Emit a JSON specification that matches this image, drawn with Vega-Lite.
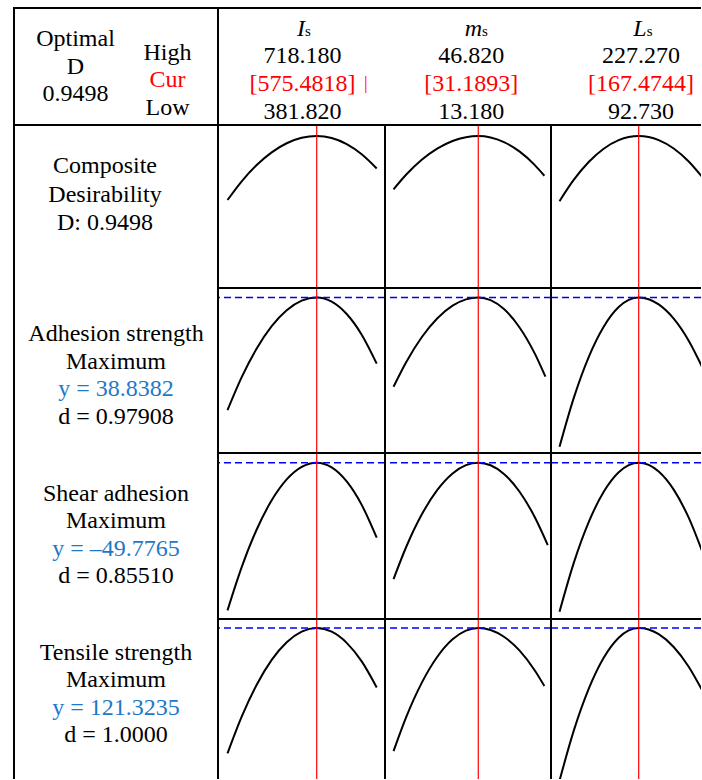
{
"$schema": "https://vega.github.io/schema/vega-lite/v6.json",
"background": "white",
"padding": {"left": 13, "top": 7, "right": 0, "bottom": 0},
"datasets": {
"factors": [
{"f": "Is", "sym": "I", "sub": "s", "low": 381.82, "high": 718.18, "cur": 575.4818},
{"f": "ms", "sym": "m", "sub": "s", "low": 13.18, "high": 46.82, "cur": 31.1893},
{"f": "Ls", "sym": "L", "sub": "s", "low": 92.73, "high": 227.27, "cur": 167.4744}
],
"responses": [
{"r": "A", "yv": 38.8382},
{"r": "S", "yv": -49.7765},
{"r": "T", "yv": 121.3235}
],
"hleft": [
{"g": "L", "line": 2, "text": "Optimal", "role": "k"},
{"g": "L", "line": 4, "text": "D", "role": "k"},
{"g": "L", "line": 6, "text": "0.9498", "role": "k"},
{"g": "R", "line": 3, "text": "High", "role": "k"},
{"g": "R", "line": 5, "text": "Cur", "role": "cur"},
{"g": "R", "line": 7, "text": "Low", "role": "k"}
],
"hcols": [
{"f": "Is", "line": 2, "text": "718.180", "role": "k"},
{"f": "Is", "line": 3, "text": "[575.4818]", "role": "cur"},
{"f": "Is", "line": 4, "text": "381.820", "role": "k"},
{"f": "ms", "line": 2, "text": "46.820", "role": "k"},
{"f": "ms", "line": 3, "text": "[31.1893]", "role": "cur"},
{"f": "ms", "line": 4, "text": "13.180", "role": "k"},
{"f": "Ls", "line": 2, "text": "227.270", "role": "k"},
{"f": "Ls", "line": 3, "text": "[167.4744]", "role": "cur"},
{"f": "Ls", "line": 4, "text": "92.730", "role": "k"}
],
"labels": [
{"r": "D", "line": 1, "text": "Composite", "role": "k"},
{"r": "D", "line": 2, "text": "Desirability", "role": "k"},
{"r": "D", "line": 3, "text": "D: 0.9498", "role": "k"},
{"r": "A", "line": 1, "text": "Adhesion strength", "role": "k"},
{"r": "A", "line": 2, "text": "Maximum", "role": "k"},
{"r": "A", "line": 3, "text": "y = 38.8382", "role": "y"},
{"r": "A", "line": 4, "text": "d = 0.97908", "role": "k"},
{"r": "S", "line": 1, "text": "Shear adhesion", "role": "k"},
{"r": "S", "line": 2, "text": "Maximum", "role": "k"},
{"r": "S", "line": 3, "text": "y = –49.7765", "role": "y"},
{"r": "S", "line": 4, "text": "d = 0.85510", "role": "k"},
{"r": "T", "line": 1, "text": "Tensile strength", "role": "k"},
{"r": "T", "line": 2, "text": "Maximum", "role": "k"},
{"r": "T", "line": 3, "text": "y = 121.3235", "role": "y"},
{"r": "T", "line": 4, "text": "d = 1.0000", "role": "k"}
],
"curves": [
{"r":"D","f":"Is","x":381.82,"y":0.5498},{"r":"D","f":"Is","x":412.65,"y":0.6671},{"r":"D","f":"Is","x":445.21,"y":0.7689},{"r":"D","f":"Is","x":477.78,"y":0.848},{"r":"D","f":"Is","x":510.35,"y":0.9046},{"r":"D","f":"Is","x":542.91,"y":0.9385},{"r":"D","f":"Is","x":575.48,"y":0.9498},{"r":"D","f":"Is","x":608.05,"y":0.9371},{"r":"D","f":"Is","x":640.61,"y":0.8991},{"r":"D","f":"Is","x":673.18,"y":0.8357},{"r":"D","f":"Is","x":705.75,"y":0.747},
{"r":"D","f":"ms","x":13.18,"y":0.6167},{"r":"D","f":"ms","x":15.89,"y":0.7094},{"r":"D","f":"ms","x":19.17,"y":0.8014},{"r":"D","f":"ms","x":22.45,"y":0.8713},{"r":"D","f":"ms","x":25.73,"y":0.9191},{"r":"D","f":"ms","x":28.57,"y":0.9427},{"r":"D","f":"ms","x":31.19,"y":0.9498},{"r":"D","f":"ms","x":33.81,"y":0.9412},{"r":"D","f":"ms","x":36.65,"y":0.9123},{"r":"D","f":"ms","x":39.93,"y":0.8538},{"r":"D","f":"ms","x":43.21,"y":0.7683},{"r":"D","f":"ms","x":45.24,"y":0.7017},
{"r":"D","f":"Ls","x":93.2,"y":0.5425},{"r":"D","f":"Ls","x":106.52,"y":0.6754},{"r":"D","f":"Ls","x":120.58,"y":0.7874},{"r":"D","f":"Ls","x":134.65,"y":0.8702},{"r":"D","f":"Ls","x":148.72,"y":0.9238},{"r":"D","f":"Ls","x":158.1,"y":0.9433},{"r":"D","f":"Ls","x":167.47,"y":0.9498},{"r":"D","f":"Ls","x":176.85,"y":0.9434},{"r":"D","f":"Ls","x":186.23,"y":0.9244},{"r":"D","f":"Ls","x":200.3,"y":0.872},{"r":"D","f":"Ls","x":214.37,"y":0.791},{"r":"D","f":"Ls","x":226.84,"y":0.6954},
{"r":"A","f":"Is","x":381.82,"y":24.754},{"r":"A","f":"Is","x":412.65,"y":28.882},{"r":"A","f":"Is","x":445.21,"y":32.466},{"r":"A","f":"Is","x":477.78,"y":35.254},{"r":"A","f":"Is","x":510.35,"y":37.246},{"r":"A","f":"Is","x":542.91,"y":38.439},{"r":"A","f":"Is","x":575.48,"y":38.838},{"r":"A","f":"Is","x":608.05,"y":38.321},{"r":"A","f":"Is","x":640.61,"y":36.771},{"r":"A","f":"Is","x":673.18,"y":34.186},{"r":"A","f":"Is","x":705.75,"y":30.567},
{"r":"A","f":"ms","x":13.18,"y":27.686},{"r":"A","f":"ms","x":15.89,"y":30.789},{"r":"A","f":"ms","x":19.17,"y":33.869},{"r":"A","f":"ms","x":22.45,"y":36.211},{"r":"A","f":"ms","x":25.73,"y":37.812},{"r":"A","f":"ms","x":28.57,"y":38.602},{"r":"A","f":"ms","x":31.19,"y":38.838},{"r":"A","f":"ms","x":33.81,"y":38.504},{"r":"A","f":"ms","x":36.65,"y":37.387},{"r":"A","f":"ms","x":39.93,"y":35.124},{"r":"A","f":"ms","x":43.21,"y":31.817},{"r":"A","f":"ms","x":45.46,"y":28.941},
{"r":"A","f":"Ls","x":93.2,"y":20.169},{"r":"A","f":"Ls","x":106.52,"y":26.263},{"r":"A","f":"Ls","x":120.58,"y":31.397},{"r":"A","f":"Ls","x":134.65,"y":35.192},{"r":"A","f":"Ls","x":148.72,"y":37.648},{"r":"A","f":"Ls","x":158.1,"y":38.541},{"r":"A","f":"Ls","x":167.47,"y":38.838},{"r":"A","f":"Ls","x":176.85,"y":38.622},{"r":"A","f":"Ls","x":186.23,"y":37.974},{"r":"A","f":"Ls","x":200.3,"y":36.193},{"r":"A","f":"Ls","x":214.37,"y":33.441},{"r":"A","f":"Ls","x":226.84,"y":30.188},
{"r":"S","f":"Is","x":381.82,"y":-123.61},{"r":"S","f":"Is","x":412.65,"y":-101.98},{"r":"S","f":"Is","x":445.21,"y":-83.19},{"r":"S","f":"Is","x":477.78,"y":-68.57},{"r":"S","f":"Is","x":510.35,"y":-58.13},{"r":"S","f":"Is","x":542.91,"y":-51.87},{"r":"S","f":"Is","x":575.48,"y":-49.78},{"r":"S","f":"Is","x":608.05,"y":-52.12},{"r":"S","f":"Is","x":640.61,"y":-59.15},{"r":"S","f":"Is","x":673.18,"y":-70.87},{"r":"S","f":"Is","x":705.75,"y":-87.27},
{"r":"S","f":"ms","x":13.18,"y":-108.0},{"r":"S","f":"ms","x":15.89,"y":-91.8},{"r":"S","f":"ms","x":19.17,"y":-75.72},{"r":"S","f":"ms","x":22.45,"y":-63.5},{"r":"S","f":"ms","x":25.73,"y":-55.14},{"r":"S","f":"ms","x":28.57,"y":-51.01},{"r":"S","f":"ms","x":31.19,"y":-49.78},{"r":"S","f":"ms","x":33.81,"y":-51.07},{"r":"S","f":"ms","x":36.65,"y":-55.41},{"r":"S","f":"ms","x":39.93,"y":-64.19},{"r":"S","f":"ms","x":43.21,"y":-77.03},{"r":"S","f":"ms","x":45.96,"y":-90.95},
{"r":"S","f":"Ls","x":93.2,"y":-124.3},{"r":"S","f":"Ls","x":106.52,"y":-99.97},{"r":"S","f":"Ls","x":120.58,"y":-79.48},{"r":"S","f":"Ls","x":134.65,"y":-64.33},{"r":"S","f":"Ls","x":148.72,"y":-54.53},{"r":"S","f":"Ls","x":158.1,"y":-50.97},{"r":"S","f":"Ls","x":167.47,"y":-49.78},{"r":"S","f":"Ls","x":176.85,"y":-50.88},{"r":"S","f":"Ls","x":186.23,"y":-54.18},{"r":"S","f":"Ls","x":200.3,"y":-63.25},{"r":"S","f":"Ls","x":214.37,"y":-77.28},{"r":"S","f":"Ls","x":226.84,"y":-93.85},
{"r":"T","f":"Is","x":381.82,"y":58.62},{"r":"T","f":"Is","x":412.65,"y":77.0},{"r":"T","f":"Is","x":445.21,"y":92.95},{"r":"T","f":"Is","x":477.78,"y":105.37},{"r":"T","f":"Is","x":510.35,"y":114.23},{"r":"T","f":"Is","x":542.91,"y":119.55},{"r":"T","f":"Is","x":575.48,"y":121.32},{"r":"T","f":"Is","x":608.05,"y":119.47},{"r":"T","f":"Is","x":640.61,"y":113.9},{"r":"T","f":"Is","x":673.18,"y":104.62},{"r":"T","f":"Is","x":705.75,"y":91.62},
{"r":"T","f":"ms","x":13.18,"y":59.77},{"r":"T","f":"ms","x":15.89,"y":76.9},{"r":"T","f":"ms","x":19.17,"y":93.9},{"r":"T","f":"ms","x":22.45,"y":106.82},{"r":"T","f":"ms","x":25.73,"y":115.66},{"r":"T","f":"ms","x":28.57,"y":120.02},{"r":"T","f":"ms","x":31.19,"y":121.32},{"r":"T","f":"ms","x":33.81,"y":120.31},{"r":"T","f":"ms","x":36.65,"y":116.94},{"r":"T","f":"ms","x":39.93,"y":110.1},{"r":"T","f":"ms","x":43.21,"y":100.1},{"r":"T","f":"ms","x":45.24,"y":92.32},
{"r":"T","f":"Ls","x":93.2,"y":44.97},{"r":"T","f":"Ls","x":106.52,"y":69.87},{"r":"T","f":"Ls","x":120.58,"y":90.87},{"r":"T","f":"Ls","x":134.65,"y":106.41},{"r":"T","f":"Ls","x":148.72,"y":116.45},{"r":"T","f":"Ls","x":158.1,"y":120.1},{"r":"T","f":"Ls","x":167.47,"y":121.32},{"r":"T","f":"Ls","x":176.85,"y":120.55},{"r":"T","f":"Ls","x":186.23,"y":118.23},{"r":"T","f":"Ls","x":200.3,"y":111.85},{"r":"T","f":"Ls","x":214.37,"y":101.98},{"r":"T","f":"Ls","x":226.84,"y":90.32}
]
},
"columns": 4,
"spacing": 0,
"bounds": "flush",
"align": "each",
"concat": [
{"width": 204, "height": 117, "view": {"stroke": "black", "strokeWidth": 2}, "data": {"name": "hleft"},
 "layer": [
  {"transform": [{"filter": "datum.g == 'L'"}], "mark": {"type": "text"},
   "encoding": {"x": {"datum": 0.3015, "type": "quantitative", "scale": {"domain": [0, 1], "nice": false, "zero": false}, "axis": null},
    "y": {"field": "line", "type": "quantitative", "scale": {"domain": [-0.179, 8.179], "reverse": true, "nice": false, "zero": false}, "axis": null},
    "text": {"field": "text"},
    "color": {"field": "role", "type": "nominal", "scale": {"domain": ["k", "cur", "y"], "range": ["#000000", "#FF0000", "#1E78C8"]}, "legend": null}}},
  {"transform": [{"filter": "datum.g == 'R'"}], "mark": {"type": "text"},
   "encoding": {"x": {"datum": 0.7525, "type": "quantitative"},
    "y": {"field": "line", "type": "quantitative"},
    "text": {"field": "text"},
    "color": {"field": "role", "type": "nominal", "scale": {"domain": ["k", "cur", "y"], "range": ["#000000", "#FF0000", "#1E78C8"]}, "legend": null}}}
 ]},
{"width": 167, "height": 117, "data": {"name": "factors"}, "transform": [{"filter": "datum.f == 'Is'"}],
 "layer": [
  {"data": {"name": "hcols"}, "transform": [{"filter": "datum.f == 'Is'"}], "mark": {"type": "text"},
   "encoding": {"x": {"datum": 544.65, "type": "quantitative", "scale": {"domain": [361.19, 723.77], "nice": false, "zero": false}, "axis": null},
    "y": {"field": "line", "type": "quantitative", "scale": {"domain": [0.2857, 4.4643], "reverse": true, "nice": false, "zero": false}, "axis": null},
    "text": {"field": "text"},
    "color": {"field": "role", "type": "nominal", "scale": {"domain": ["k", "cur", "y"], "range": ["#000000", "#FF0000", "#1E78C8"]}, "legend": null}}},
  {"mark": {"type": "text", "fontStyle": "italic", "align": "right", "baseline": "alphabetic"},
   "encoding": {"x": {"datum": 550.08, "type": "quantitative"}, "y": {"datum": 1.2857, "type": "quantitative"}, "text": {"field": "sym"}}},
  {"mark": {"type": "text", "fontSize": 15, "align": "left", "baseline": "alphabetic"},
   "encoding": {"x": {"datum": 550.08, "type": "quantitative"}, "y": {"datum": 1.2857, "type": "quantitative"}, "text": {"field": "sub"}}},
  {"mark": {"type": "text", "fontSize": 18, "color": "#FF0000"},
   "encoding": {"x": {"datum": 681.9, "type": "quantitative"}, "y": {"datum": 3, "type": "quantitative"}, "text": {"value": "|"}}},
  {"mark": {"type": "rule", "color": "black", "strokeWidth": 2}, "encoding": {"y": {"datum": 0.2857, "type": "quantitative"}}}
 ]},
{"width": 166, "height": 117, "data": {"name": "factors"}, "transform": [{"filter": "datum.f == 'ms'"}],
 "layer": [
  {"data": {"name": "hcols"}, "transform": [{"filter": "datum.f == 'ms'"}], "mark": {"type": "text"},
   "encoding": {"x": {"datum": 29.72, "type": "quantitative", "scale": {"domain": [11.366, 46.648], "nice": false, "zero": false}, "axis": null},
    "y": {"field": "line", "type": "quantitative", "scale": {"domain": [0.2857, 4.4643], "reverse": true, "nice": false, "zero": false}, "axis": null},
    "text": {"field": "text"},
    "color": {"field": "role", "type": "nominal", "scale": {"domain": ["k", "cur", "y"], "range": ["#000000", "#FF0000", "#1E78C8"]}, "legend": null}}},
  {"mark": {"type": "text", "fontStyle": "italic", "align": "right", "baseline": "alphabetic"},
   "encoding": {"x": {"datum": 31.98, "type": "quantitative"}, "y": {"datum": 1.2857, "type": "quantitative"}, "text": {"field": "sym"}}},
  {"mark": {"type": "text", "fontSize": 15, "align": "left", "baseline": "alphabetic"},
   "encoding": {"x": {"datum": 31.98, "type": "quantitative"}, "y": {"datum": 1.2857, "type": "quantitative"}, "text": {"field": "sub"}}},
  {"mark": {"type": "rule", "color": "black", "strokeWidth": 2}, "encoding": {"y": {"datum": 0.2857, "type": "quantitative"}}}
 ]},
{"width": 150, "height": 117, "data": {"name": "factors"}, "transform": [{"filter": "datum.f == 'Ls'"}],
 "layer": [
  {"data": {"name": "hcols"}, "transform": [{"filter": "datum.f == 'Ls'"}], "mark": {"type": "text"},
   "encoding": {"x": {"datum": 169.63, "type": "quantitative", "scale": {"domain": [85.23, 225.9], "nice": false, "zero": false}, "axis": null},
    "y": {"field": "line", "type": "quantitative", "scale": {"domain": [0.2857, 4.4643], "reverse": true, "nice": false, "zero": false}, "axis": null},
    "text": {"field": "text"},
    "color": {"field": "role", "type": "nominal", "scale": {"domain": ["k", "cur", "y"], "range": ["#000000", "#FF0000", "#1E78C8"]}, "legend": null}}},
  {"mark": {"type": "text", "fontStyle": "italic", "align": "right", "baseline": "alphabetic"},
   "encoding": {"x": {"datum": 174.98, "type": "quantitative"}, "y": {"datum": 1.2857, "type": "quantitative"}, "text": {"field": "sym"}}},
  {"mark": {"type": "text", "fontSize": 15, "align": "left", "baseline": "alphabetic"},
   "encoding": {"x": {"datum": 174.98, "type": "quantitative"}, "y": {"datum": 1.2857, "type": "quantitative"}, "text": {"field": "sub"}}},
  {"mark": {"type": "rule", "color": "black", "strokeWidth": 2}, "encoding": {"y": {"datum": 0.2857, "type": "quantitative"}}}
 ]},

{"width": 204, "height": 163, "data": {"name": "labels"}, "transform": [{"filter": "datum.r == 'D'"}],
 "layer": [
  {"mark": {"type": "text"},
   "encoding": {"x": {"datum": 0.446, "type": "quantitative", "scale": {"domain": [0, 1], "nice": false, "zero": false}, "axis": null},
    "y": {"field": "line", "type": "quantitative", "scale": {"domain": [-0.482, 5.339], "reverse": true, "nice": false, "zero": false}, "axis": null},
    "text": {"field": "text"},
    "color": {"field": "role", "type": "nominal", "scale": {"domain": ["k", "cur", "y"], "range": ["#000000", "#FF0000", "#1E78C8"]}, "legend": null}}},
  {"transform": [{"filter": "datum.line == 1"}], "mark": {"type": "rule", "color": "black", "strokeWidth": 2}, "encoding": {"x": {"datum": 0, "type": "quantitative"}}}
 ]},
{"width": 167, "height": 163, "data": {"name": "factors"}, "transform": [{"filter": "datum.f == 'Is'"}],
 "layer": [
  {"data": {"name": "curves"}, "transform": [{"filter": "datum.r == 'D' && datum.f == 'Is'"}], "mark": {"type": "line", "color": "black", "strokeWidth": 2, "interpolate": "monotone", "clip": true},
   "encoding": {"x": {"field": "x", "type": "quantitative", "scale": {"domain": [361.19, 723.77], "nice": false, "zero": false}, "axis": null},
    "y": {"field": "y", "type": "quantitative", "scale": {"domain": [0, 1.0188], "nice": false, "zero": false}, "axis": null}}},
  {"mark": {"type": "rule", "color": "#FF0000", "strokeWidth": 1.2}, "encoding": {"x": {"field": "cur", "type": "quantitative"}}},
  {"mark": {"type": "rule", "color": "black", "strokeWidth": 2}, "encoding": {"x": {"datum": 361.19, "type": "quantitative"}}},
  {"mark": {"type": "rule", "color": "black", "strokeWidth": 2}, "encoding": {"y": {"datum": 1.0188, "type": "quantitative"}}}
 ]},
{"width": 166, "height": 163, "data": {"name": "factors"}, "transform": [{"filter": "datum.f == 'ms'"}],
 "layer": [
  {"data": {"name": "curves"}, "transform": [{"filter": "datum.r == 'D' && datum.f == 'ms'"}], "mark": {"type": "line", "color": "black", "strokeWidth": 2, "interpolate": "monotone", "clip": true},
   "encoding": {"x": {"field": "x", "type": "quantitative", "scale": {"domain": [11.366, 46.648], "nice": false, "zero": false}, "axis": null},
    "y": {"field": "y", "type": "quantitative", "scale": {"domain": [0, 1.0188], "nice": false, "zero": false}, "axis": null}}},
  {"mark": {"type": "rule", "color": "#FF0000", "strokeWidth": 1.2}, "encoding": {"x": {"field": "cur", "type": "quantitative"}}},
  {"mark": {"type": "rule", "color": "black", "strokeWidth": 2}, "encoding": {"x": {"datum": 11.366, "type": "quantitative"}}},
  {"mark": {"type": "rule", "color": "black", "strokeWidth": 2}, "encoding": {"y": {"datum": 1.0188, "type": "quantitative"}}}
 ]},
{"width": 150, "height": 163, "data": {"name": "factors"}, "transform": [{"filter": "datum.f == 'Ls'"}],
 "layer": [
  {"data": {"name": "curves"}, "transform": [{"filter": "datum.r == 'D' && datum.f == 'Ls'"}], "mark": {"type": "line", "color": "black", "strokeWidth": 2, "interpolate": "monotone", "clip": true},
   "encoding": {"x": {"field": "x", "type": "quantitative", "scale": {"domain": [85.23, 225.9], "nice": false, "zero": false}, "axis": null},
    "y": {"field": "y", "type": "quantitative", "scale": {"domain": [0, 1.0188], "nice": false, "zero": false}, "axis": null}}},
  {"mark": {"type": "rule", "color": "#FF0000", "strokeWidth": 1.2}, "encoding": {"x": {"field": "cur", "type": "quantitative"}}},
  {"mark": {"type": "rule", "color": "black", "strokeWidth": 2}, "encoding": {"x": {"datum": 85.23, "type": "quantitative"}}},
  {"mark": {"type": "rule", "color": "black", "strokeWidth": 2}, "encoding": {"y": {"datum": 1.0188, "type": "quantitative"}}}
 ]},

{"width": 204, "height": 165, "data": {"name": "labels"}, "transform": [{"filter": "datum.r == 'A'"}],
 "layer": [
  {"mark": {"type": "text"},
   "encoding": {"x": {"datum": 0.5, "type": "quantitative", "scale": {"domain": [0, 1], "nice": false, "zero": false}, "axis": null},
    "y": {"field": "line", "type": "quantitative", "scale": {"domain": [-0.673, 5.327], "reverse": true, "nice": false, "zero": false}, "axis": null},
    "text": {"field": "text"},
    "color": {"field": "role", "type": "nominal", "scale": {"domain": ["k", "cur", "y"], "range": ["#000000", "#FF0000", "#1E78C8"]}, "legend": null}}},
  {"transform": [{"filter": "datum.line == 1"}], "mark": {"type": "rule", "color": "black", "strokeWidth": 2}, "encoding": {"x": {"datum": 0, "type": "quantitative"}}}
 ]},
{"width": 167, "height": 165, "data": {"name": "factors"}, "transform": [{"filter": "datum.f == 'Is'"}],
 "layer": [
  {"data": {"name": "curves"}, "transform": [{"filter": "datum.r == 'A' && datum.f == 'Is'"}], "mark": {"type": "line", "color": "black", "strokeWidth": 2, "interpolate": "monotone", "clip": true},
   "encoding": {"x": {"field": "x", "type": "quantitative", "scale": {"domain": [361.19, 723.77], "nice": false, "zero": false}, "axis": null},
    "y": {"field": "y", "type": "quantitative", "scale": {"domain": [19.401, 40.026], "nice": false, "zero": false}, "axis": null}}},
  {"data": {"name": "responses"}, "transform": [{"filter": "datum.r == 'A'"}], "mark": {"type": "rule", "color": "#0000FF", "strokeWidth": 1.5, "strokeDash": [7, 4]}, "encoding": {"y": {"field": "yv", "type": "quantitative"}}},
  {"mark": {"type": "rule", "color": "#FF0000", "strokeWidth": 1.2}, "encoding": {"x": {"field": "cur", "type": "quantitative"}}},
  {"mark": {"type": "rule", "color": "black", "strokeWidth": 2}, "encoding": {"x": {"datum": 361.19, "type": "quantitative"}}},
  {"mark": {"type": "rule", "color": "black", "strokeWidth": 2}, "encoding": {"y": {"datum": 40.026, "type": "quantitative"}}}
 ]},
{"width": 166, "height": 165, "data": {"name": "factors"}, "transform": [{"filter": "datum.f == 'ms'"}],
 "layer": [
  {"data": {"name": "curves"}, "transform": [{"filter": "datum.r == 'A' && datum.f == 'ms'"}], "mark": {"type": "line", "color": "black", "strokeWidth": 2, "interpolate": "monotone", "clip": true},
   "encoding": {"x": {"field": "x", "type": "quantitative", "scale": {"domain": [11.366, 46.648], "nice": false, "zero": false}, "axis": null},
    "y": {"field": "y", "type": "quantitative", "scale": {"domain": [19.401, 40.026], "nice": false, "zero": false}, "axis": null}}},
  {"data": {"name": "responses"}, "transform": [{"filter": "datum.r == 'A'"}], "mark": {"type": "rule", "color": "#0000FF", "strokeWidth": 1.5, "strokeDash": [7, 4]}, "encoding": {"y": {"field": "yv", "type": "quantitative"}}},
  {"mark": {"type": "rule", "color": "#FF0000", "strokeWidth": 1.2}, "encoding": {"x": {"field": "cur", "type": "quantitative"}}},
  {"mark": {"type": "rule", "color": "black", "strokeWidth": 2}, "encoding": {"x": {"datum": 11.366, "type": "quantitative"}}},
  {"mark": {"type": "rule", "color": "black", "strokeWidth": 2}, "encoding": {"y": {"datum": 40.026, "type": "quantitative"}}}
 ]},
{"width": 150, "height": 165, "data": {"name": "factors"}, "transform": [{"filter": "datum.f == 'Ls'"}],
 "layer": [
  {"data": {"name": "curves"}, "transform": [{"filter": "datum.r == 'A' && datum.f == 'Ls'"}], "mark": {"type": "line", "color": "black", "strokeWidth": 2, "interpolate": "monotone", "clip": true},
   "encoding": {"x": {"field": "x", "type": "quantitative", "scale": {"domain": [85.23, 225.9], "nice": false, "zero": false}, "axis": null},
    "y": {"field": "y", "type": "quantitative", "scale": {"domain": [19.401, 40.026], "nice": false, "zero": false}, "axis": null}}},
  {"data": {"name": "responses"}, "transform": [{"filter": "datum.r == 'A'"}], "mark": {"type": "rule", "color": "#0000FF", "strokeWidth": 1.5, "strokeDash": [7, 4]}, "encoding": {"y": {"field": "yv", "type": "quantitative"}}},
  {"mark": {"type": "rule", "color": "#FF0000", "strokeWidth": 1.2}, "encoding": {"x": {"field": "cur", "type": "quantitative"}}},
  {"mark": {"type": "rule", "color": "black", "strokeWidth": 2}, "encoding": {"x": {"datum": 85.23, "type": "quantitative"}}},
  {"mark": {"type": "rule", "color": "black", "strokeWidth": 2}, "encoding": {"y": {"datum": 40.026, "type": "quantitative"}}}
 ]},

{"width": 204, "height": 166, "data": {"name": "labels"}, "transform": [{"filter": "datum.r == 'S'"}],
 "layer": [
  {"mark": {"type": "text"},
   "encoding": {"x": {"datum": 0.5, "type": "quantitative", "scale": {"domain": [0, 1], "nice": false, "zero": false}, "axis": null},
    "y": {"field": "line", "type": "quantitative", "scale": {"domain": [-0.473, 5.563], "reverse": true, "nice": false, "zero": false}, "axis": null},
    "text": {"field": "text"},
    "color": {"field": "role", "type": "nominal", "scale": {"domain": ["k", "cur", "y"], "range": ["#000000", "#FF0000", "#1E78C8"]}, "legend": null}}},
  {"transform": [{"filter": "datum.line == 1"}], "mark": {"type": "rule", "color": "black", "strokeWidth": 2}, "encoding": {"x": {"datum": 0, "type": "quantitative"}}}
 ]},
{"width": 167, "height": 166, "data": {"name": "factors"}, "transform": [{"filter": "datum.f == 'Is'"}],
 "layer": [
  {"data": {"name": "curves"}, "transform": [{"filter": "datum.r == 'S' && datum.f == 'Is'"}], "mark": {"type": "line", "color": "black", "strokeWidth": 2, "interpolate": "monotone", "clip": true},
   "encoding": {"x": {"field": "x", "type": "quantitative", "scale": {"domain": [361.19, 723.77], "nice": false, "zero": false}, "axis": null},
    "y": {"field": "y", "type": "quantitative", "scale": {"domain": [-127.9265, -44.9265], "nice": false, "zero": false}, "axis": null}}},
  {"data": {"name": "responses"}, "transform": [{"filter": "datum.r == 'S'"}], "mark": {"type": "rule", "color": "#0000FF", "strokeWidth": 1.5, "strokeDash": [7, 4]}, "encoding": {"y": {"field": "yv", "type": "quantitative"}}},
  {"mark": {"type": "rule", "color": "#FF0000", "strokeWidth": 1.2}, "encoding": {"x": {"field": "cur", "type": "quantitative"}}},
  {"mark": {"type": "rule", "color": "black", "strokeWidth": 2}, "encoding": {"x": {"datum": 361.19, "type": "quantitative"}}},
  {"mark": {"type": "rule", "color": "black", "strokeWidth": 2}, "encoding": {"y": {"datum": -44.9265, "type": "quantitative"}}}
 ]},
{"width": 166, "height": 166, "data": {"name": "factors"}, "transform": [{"filter": "datum.f == 'ms'"}],
 "layer": [
  {"data": {"name": "curves"}, "transform": [{"filter": "datum.r == 'S' && datum.f == 'ms'"}], "mark": {"type": "line", "color": "black", "strokeWidth": 2, "interpolate": "monotone", "clip": true},
   "encoding": {"x": {"field": "x", "type": "quantitative", "scale": {"domain": [11.366, 46.648], "nice": false, "zero": false}, "axis": null},
    "y": {"field": "y", "type": "quantitative", "scale": {"domain": [-127.9265, -44.9265], "nice": false, "zero": false}, "axis": null}}},
  {"data": {"name": "responses"}, "transform": [{"filter": "datum.r == 'S'"}], "mark": {"type": "rule", "color": "#0000FF", "strokeWidth": 1.5, "strokeDash": [7, 4]}, "encoding": {"y": {"field": "yv", "type": "quantitative"}}},
  {"mark": {"type": "rule", "color": "#FF0000", "strokeWidth": 1.2}, "encoding": {"x": {"field": "cur", "type": "quantitative"}}},
  {"mark": {"type": "rule", "color": "black", "strokeWidth": 2}, "encoding": {"x": {"datum": 11.366, "type": "quantitative"}}},
  {"mark": {"type": "rule", "color": "black", "strokeWidth": 2}, "encoding": {"y": {"datum": -44.9265, "type": "quantitative"}}}
 ]},
{"width": 150, "height": 166, "data": {"name": "factors"}, "transform": [{"filter": "datum.f == 'Ls'"}],
 "layer": [
  {"data": {"name": "curves"}, "transform": [{"filter": "datum.r == 'S' && datum.f == 'Ls'"}], "mark": {"type": "line", "color": "black", "strokeWidth": 2, "interpolate": "monotone", "clip": true},
   "encoding": {"x": {"field": "x", "type": "quantitative", "scale": {"domain": [85.23, 225.9], "nice": false, "zero": false}, "axis": null},
    "y": {"field": "y", "type": "quantitative", "scale": {"domain": [-127.9265, -44.9265], "nice": false, "zero": false}, "axis": null}}},
  {"data": {"name": "responses"}, "transform": [{"filter": "datum.r == 'S'"}], "mark": {"type": "rule", "color": "#0000FF", "strokeWidth": 1.5, "strokeDash": [7, 4]}, "encoding": {"y": {"field": "yv", "type": "quantitative"}}},
  {"mark": {"type": "rule", "color": "#FF0000", "strokeWidth": 1.2}, "encoding": {"x": {"field": "cur", "type": "quantitative"}}},
  {"mark": {"type": "rule", "color": "black", "strokeWidth": 2}, "encoding": {"x": {"datum": 85.23, "type": "quantitative"}}},
  {"mark": {"type": "rule", "color": "black", "strokeWidth": 2}, "encoding": {"y": {"datum": -44.9265, "type": "quantitative"}}}
 ]},

{"width": 204, "height": 160, "data": {"name": "labels"}, "transform": [{"filter": "datum.r == 'T'"}],
 "layer": [
  {"mark": {"type": "text"},
   "encoding": {"x": {"datum": 0.5, "type": "quantitative", "scale": {"domain": [0, 1], "nice": false, "zero": false}, "axis": null},
    "y": {"field": "line", "type": "quantitative", "scale": {"domain": [-0.236, 5.582], "reverse": true, "nice": false, "zero": false}, "axis": null},
    "text": {"field": "text"},
    "color": {"field": "role", "type": "nominal", "scale": {"domain": ["k", "cur", "y"], "range": ["#000000", "#FF0000", "#1E78C8"]}, "legend": null}}},
  {"transform": [{"filter": "datum.line == 1"}], "mark": {"type": "rule", "color": "black", "strokeWidth": 2}, "encoding": {"x": {"datum": 0, "type": "quantitative"}}}
 ]},
{"width": 167, "height": 160, "data": {"name": "factors"}, "transform": [{"filter": "datum.f == 'Is'"}],
 "layer": [
  {"data": {"name": "curves"}, "transform": [{"filter": "datum.r == 'T' && datum.f == 'Is'"}], "mark": {"type": "line", "color": "black", "strokeWidth": 2, "interpolate": "monotone", "clip": true},
   "encoding": {"x": {"field": "x", "type": "quantitative", "scale": {"domain": [361.19, 723.77], "nice": false, "zero": false}, "axis": null},
    "y": {"field": "y", "type": "quantitative", "scale": {"domain": [45.8235, 125.8235], "nice": false, "zero": false}, "axis": null}}},
  {"data": {"name": "responses"}, "transform": [{"filter": "datum.r == 'T'"}], "mark": {"type": "rule", "color": "#0000FF", "strokeWidth": 1.5, "strokeDash": [7, 4]}, "encoding": {"y": {"field": "yv", "type": "quantitative"}}},
  {"mark": {"type": "rule", "color": "#FF0000", "strokeWidth": 1.2}, "encoding": {"x": {"field": "cur", "type": "quantitative"}}},
  {"mark": {"type": "rule", "color": "black", "strokeWidth": 2}, "encoding": {"x": {"datum": 361.19, "type": "quantitative"}}},
  {"mark": {"type": "rule", "color": "black", "strokeWidth": 2}, "encoding": {"y": {"datum": 125.8235, "type": "quantitative"}}}
 ]},
{"width": 166, "height": 160, "data": {"name": "factors"}, "transform": [{"filter": "datum.f == 'ms'"}],
 "layer": [
  {"data": {"name": "curves"}, "transform": [{"filter": "datum.r == 'T' && datum.f == 'ms'"}], "mark": {"type": "line", "color": "black", "strokeWidth": 2, "interpolate": "monotone", "clip": true},
   "encoding": {"x": {"field": "x", "type": "quantitative", "scale": {"domain": [11.366, 46.648], "nice": false, "zero": false}, "axis": null},
    "y": {"field": "y", "type": "quantitative", "scale": {"domain": [45.8235, 125.8235], "nice": false, "zero": false}, "axis": null}}},
  {"data": {"name": "responses"}, "transform": [{"filter": "datum.r == 'T'"}], "mark": {"type": "rule", "color": "#0000FF", "strokeWidth": 1.5, "strokeDash": [7, 4]}, "encoding": {"y": {"field": "yv", "type": "quantitative"}}},
  {"mark": {"type": "rule", "color": "#FF0000", "strokeWidth": 1.2}, "encoding": {"x": {"field": "cur", "type": "quantitative"}}},
  {"mark": {"type": "rule", "color": "black", "strokeWidth": 2}, "encoding": {"x": {"datum": 11.366, "type": "quantitative"}}},
  {"mark": {"type": "rule", "color": "black", "strokeWidth": 2}, "encoding": {"y": {"datum": 125.8235, "type": "quantitative"}}}
 ]},
{"width": 150, "height": 160, "data": {"name": "factors"}, "transform": [{"filter": "datum.f == 'Ls'"}],
 "layer": [
  {"data": {"name": "curves"}, "transform": [{"filter": "datum.r == 'T' && datum.f == 'Ls'"}], "mark": {"type": "line", "color": "black", "strokeWidth": 2, "interpolate": "monotone", "clip": true},
   "encoding": {"x": {"field": "x", "type": "quantitative", "scale": {"domain": [85.23, 225.9], "nice": false, "zero": false}, "axis": null},
    "y": {"field": "y", "type": "quantitative", "scale": {"domain": [45.8235, 125.8235], "nice": false, "zero": false}, "axis": null}}},
  {"data": {"name": "responses"}, "transform": [{"filter": "datum.r == 'T'"}], "mark": {"type": "rule", "color": "#0000FF", "strokeWidth": 1.5, "strokeDash": [7, 4]}, "encoding": {"y": {"field": "yv", "type": "quantitative"}}},
  {"mark": {"type": "rule", "color": "#FF0000", "strokeWidth": 1.2}, "encoding": {"x": {"field": "cur", "type": "quantitative"}}},
  {"mark": {"type": "rule", "color": "black", "strokeWidth": 2}, "encoding": {"x": {"datum": 85.23, "type": "quantitative"}}},
  {"mark": {"type": "rule", "color": "black", "strokeWidth": 2}, "encoding": {"y": {"datum": 125.8235, "type": "quantitative"}}}
 ]}
],
"config": {
 "view": {"stroke": null},
 "text": {"font": "Liberation Serif", "fontSize": 24},
 "axis": {"disable": true},
 "legend": {"disable": true}
}
}
